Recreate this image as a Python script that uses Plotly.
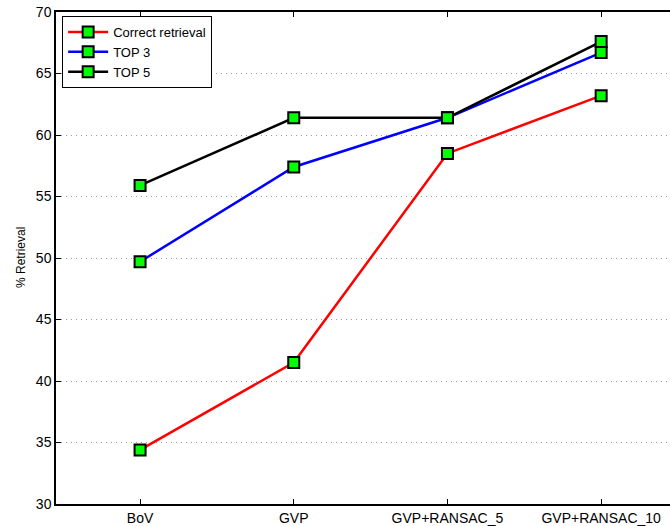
import plotly.graph_objects as go

categories = ["BoV", "GVP", "GVP+RANSAC_5", "GVP+RANSAC_10"]
correct_retrieval = [34.4, 41.5, 58.5, 63.2]
top3 = [49.7, 57.4, 61.4, 66.7]
top5 = [55.9, 61.4, 61.4, 67.6]
y_ticks = [30, 35, 40, 45, 50, 55, 60, 65, 70]

xpos = list(range(1, len(categories) + 1))

fig = go.Figure()
series = [("Correct retrieval", correct_retrieval, "#ff0000"),
          ("TOP 3", top3, "#0000ff"),
          ("TOP 5", top5, "#000000")]
for name, vals, col in series:
    fig.add_trace(go.Scatter(
        x=xpos, y=vals, name=name, mode="lines+markers",
        line=dict(color=col, width=2.5),
        marker=dict(symbol="square", size=11, color="#00ff00",
                    line=dict(color="black", width=2)),
        cliponaxis=False,
    ))

fam = "Liberation Sans, Arial, sans-serif"
font = dict(family=fam, size=14, color="black")

fig.update_layout(
    width=670, height=526,
    margin=dict(l=56, r=0, t=12, b=22, autoexpand=False),
    plot_bgcolor="white", paper_bgcolor="white",
    font=font,
    showlegend=True,
    legend=dict(x=0.01, y=0.992, xanchor="left", yanchor="top",
                bgcolor="white", bordercolor="black", borderwidth=1,
                font=dict(family=fam, size=13, color="black"),
                tracegroupgap=0, itemwidth=40),
    xaxis=dict(range=[0.453, 4.448], tickvals=xpos, ticktext=categories,
               showgrid=False, zeroline=False, automargin=False,
               showline=True, linecolor="black", linewidth=1.5,
               mirror="ticks", ticks="inside", ticklen=5, tickcolor="black",
               tickfont=font),
    yaxis=dict(range=[30, 70], tickvals=y_ticks, automargin=False,
               showgrid=True, gridcolor="#999999", griddash="1px,4px", gridwidth=1,
               zeroline=False,
               showline=True, linecolor="black", linewidth=1.5,
               ticks="inside", ticklen=5, tickcolor="black",
               tickfont=font),
    annotations=[dict(text="% Retrieval", xref="paper", yref="paper",
                      x=(21 - 56) / 614, y=0.5, xanchor="center", yanchor="middle",
                      textangle=-90, showarrow=False,
                      font=dict(family=fam, size=12, color="black"))],
)

fig.write_html("out.html", config={"displayModeBar": False},
               post_script="document.body.style.margin='0px';")
